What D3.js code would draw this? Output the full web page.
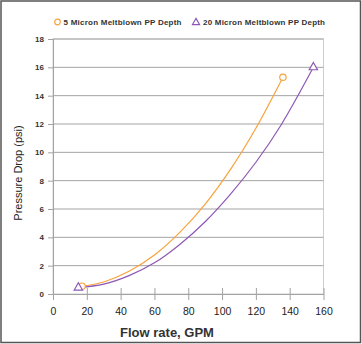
<!DOCTYPE html>
<html>
<head>
<meta charset="utf-8">
<script src="https://cdn.jsdelivr.net/npm/d3@7"></script>
<style>
  body { margin: 0; background: #fff; }
  svg { display: block; }
</style>
</head>
<body>
<div id="vis"></div>
<script>
// Data
let seriesNames = ['5 Micron Meltblown PP Depth', '20 Micron Meltblown PP Depth'];
let flow5 =  [17.2, 30, 45, 60, 75, 90, 105, 120, 136];
let drop5 =  [0.55, 0.85, 1.6, 2.75, 4.35, 6.35, 8.8, 11.7, 15.3];
let flow20 = [15, 30, 45, 60, 75, 90, 105, 120, 135, 154];
let drop20 = [0.45, 0.7, 1.3, 2.2, 3.5, 5.1, 7.05, 9.3, 11.95, 16];
let xTicks = [0, 20, 40, 60, 80, 100, 120, 140, 160];
let yTicks = [0, 2, 4, 6, 8, 10, 12, 14, 16, 18];

let width = 362,
    height = 344;

let margin = { top: 39, bottom: 50, left: 53, right: 38.5 };

let orange = '#f8a23c',
    purple = '#8d58b4',
    grid = '#a3a3a3',
    ink = '#333';

let svg = d3.select('#vis')
            .append('svg')
            .attr('width', width)
            .attr('height', height);

// Outer frame
svg.append('rect')
    .attr('x', 1).attr('y', 1)
    .attr('width', width - 2.5).attr('height', height - 2.5)
    .attr('fill', 'none')
    .attr('stroke', '#555')
    .attr('stroke-width', 1.5);

let xScale = d3.scaleLinear()
    .domain([0, 160])
    .range([margin.left, width - margin.right]);

let yScale = d3.scaleLinear()
    .domain([0, 18])
    .range([height - margin.bottom, margin.top]);

// Plot frame
svg.append('rect')
    .attr('x', margin.left).attr('y', margin.top)
    .attr('width', xScale(160) - margin.left)
    .attr('height', yScale(0) - margin.top)
    .attr('fill', 'none')
    .attr('stroke', '#cfcfcf');

// Horizontal gridlines
svg.append('g')
    .selectAll('line')
    .data(yTicks.filter(d => d > 0))
    .enter()
    .append('line')
    .attr('x1', margin.left).attr('x2', xScale(160))
    .attr('y1', d => yScale(d)).attr('y2', d => yScale(d))
    .attr('stroke', grid);

// Y axis
let yAxis = svg.append('g')
    .attr('transform', `translate(${margin.left}, 0)`)
    .call(d3.axisLeft(yScale).tickValues(yTicks).tickSize(5).tickPadding(4));
yAxis.select('.domain').attr('stroke', grid);
yAxis.selectAll('line').attr('stroke', grid);
yAxis.selectAll('text')
    .style('font-family', 'Liberation Sans, Arial')
    .style('font-size', '8px')
    .style('font-weight', 'bold')
    .attr('fill', ink);

// X axis
let xAxis = svg.append('g')
    .attr('transform', `translate(0, ${yScale(0)})`)
    .call(d3.axisBottom(xScale).tickValues(xTicks).tickSizeInner(6).tickSizeOuter(0).tickPadding(8));
xAxis.select('.domain').attr('stroke', grid);
xAxis.selectAll('.tick line').attr('y1', -6).attr('y2', 6).attr('stroke', grid);
xAxis.selectAll('text')
    .style('font-family', 'Liberation Sans, Arial')
    .style('font-size', '10.5px')
    .attr('fill', '#222');

// Axis titles
svg.append('text')
    .attr('x', 167)
    .attr('y', 337)
    .text('Flow rate, GPM')
    .style('text-anchor', 'middle')
    .style('font-family', 'Liberation Sans, Arial')
    .style('font-size', '13px')
    .style('font-weight', 'bold')
    .attr('fill', ink);

svg.append('text')
    .attr('transform', 'translate(22, 173) rotate(-90)')
    .text('Pressure Drop (psi)')
    .style('text-anchor', 'middle')
    .style('font-family', 'Liberation Sans, Arial')
    .style('font-size', '11px')
    .attr('fill', '#222');

// Curves
let line = d3.line()
    .x(d => xScale(d[0]))
    .y(d => yScale(d[1]))
    .curve(d3.curveCatmullRom);

let pts5 = flow5.map((f, i) => [f, drop5[i]]);
let pts20 = flow20.map((f, i) => [f, drop20[i]]);

svg.append('path').datum(pts5)
    .attr('d', line).attr('fill', 'none')
    .attr('stroke', orange).attr('stroke-width', 1.2);
svg.append('path').datum(pts20)
    .attr('d', line).attr('fill', 'none')
    .attr('stroke', purple).attr('stroke-width', 1.2);

// End markers
let tri = d3.symbol().type(d3.symbolTriangle).size(30);

svg.selectAll('.m5')
    .data([pts5[0], pts5[pts5.length - 1]])
    .enter().append('circle')
    .attr('cx', d => xScale(d[0])).attr('cy', d => yScale(d[1]))
    .attr('r', 3.2)
    .attr('fill', 'white').attr('stroke', orange).attr('stroke-width', 1.2);

svg.selectAll('.m20')
    .data([pts20[0], pts20[pts20.length - 1]])
    .enter().append('path')
    .attr('d', tri)
    .attr('transform', d => `translate(${xScale(d[0])}, ${yScale(d[1])})`)
    .attr('fill', 'white').attr('stroke', purple).attr('stroke-width', 1.2);

// Legend
let legend = svg.append('g').attr('transform', 'translate(0, 22)');
legend.append('circle')
    .attr('cx', 57.5).attr('cy', 0).attr('r', 2.8)
    .attr('fill', 'white').attr('stroke', orange).attr('stroke-width', 1.2);
legend.append('path')
    .attr('d', d3.symbol().type(d3.symbolTriangle).size(22))
    .attr('transform', 'translate(196, 0.5)')
    .attr('fill', 'white').attr('stroke', purple).attr('stroke-width', 1.2);

legend.selectAll('text')
    .data(seriesNames)
    .enter().append('text')
    .attr('x', (d, i) => i === 0 ? 63.5 : 203)
    .attr('y', 3)
    .attr('textLength', (d, i) => i === 0 ? 118 : 122)
    .text(d => d)
    .style('font-family', 'Liberation Sans, Arial')
    .style('font-size', '8px')
    .style('font-weight', 'bold')
    .attr('fill', ink);
</script>
</body>
</html>
